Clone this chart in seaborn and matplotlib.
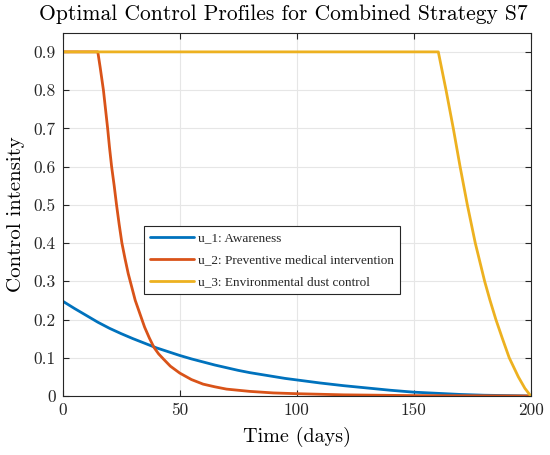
import numpy as np
import pandas as pd
import matplotlib
matplotlib.use("Agg")
import matplotlib.pyplot as plt
import seaborn as sns

# ---- data ----
t_u1 = [0, 5, 10, 15, 20, 25, 30, 35, 40, 45, 50, 55, 60, 65, 70, 75, 80, 85, 90, 95, 100,
        110, 120, 130, 140, 150, 160, 170, 180, 190, 200]
v_u1 = [0.248, 0.229, 0.211, 0.193, 0.177, 0.163, 0.150, 0.138, 0.126, 0.116, 0.106, 0.097,
        0.089, 0.081, 0.074, 0.067, 0.061, 0.056, 0.051, 0.046, 0.042,
        0.034, 0.027, 0.021, 0.015, 0.010, 0.007, 0.004, 0.002, 0.001, 0.0]

t_u2 = [0, 15, 16, 17.4, 18.3, 19.2, 20, 20.9, 22, 23, 24.1, 25.3, 26.6, 28, 29.5, 31, 33, 35,
        37, 39, 41, 43, 46, 50, 55, 60, 65, 70, 80, 90, 100, 120, 150, 200]
v_u2 = [0.9, 0.9, 0.86, 0.8, 0.75, 0.7, 0.65, 0.6, 0.55, 0.5, 0.45, 0.4, 0.36, 0.32, 0.285,
        0.25, 0.215, 0.18, 0.152, 0.127, 0.11, 0.097, 0.078, 0.060, 0.043, 0.031, 0.024,
        0.018, 0.012, 0.008, 0.006, 0.003, 0.001, 0.0]

t_u3 = [0, 160.5, 163.8, 166.9, 169.8, 172.9, 176.3, 180.3, 182.6, 185.1, 187.9, 190.8,
        194.7, 197.5, 200]
v_u3 = [0.9, 0.9, 0.8, 0.7, 0.6, 0.5, 0.4, 0.3, 0.25, 0.2, 0.15, 0.1, 0.05, 0.02, 0.0]

labels = ["u_1: Awareness", "u_2: Preventive medical intervention", "u_3: Environmental dust control"]
colors = ["#0072BD", "#D95319", "#EDB120"]

x_ticks = [0, 50, 100, 150, 200]
y_ticks = [0, 0.1, 0.2, 0.3, 0.4, 0.5, 0.6, 0.7, 0.8, 0.9]

title = "Optimal Control Profiles for Combined Strategy S7"
xlabel = "Time (days)"
ylabel = "Control intensity"

df = pd.concat([
    pd.DataFrame({"t": t_u1, "v": v_u1, "s": labels[0]}),
    pd.DataFrame({"t": t_u2, "v": v_u2, "s": labels[1]}),
    pd.DataFrame({"t": t_u3, "v": v_u3, "s": labels[2]}),
], ignore_index=True)

sns.set_theme(style="whitegrid")
plt.rcParams["font.family"] = ["cmr10", "DejaVu Serif"]
plt.rcParams["axes.unicode_minus"] = False
plt.rcParams["mathtext.fontset"] = "cm"

fig = plt.figure(figsize=(5.5, 4.55), dpi=100)
ax = fig.add_axes([0.114, 0.1297, 0.851, 0.7983])

sns.lineplot(data=df, x="t", y="v", hue="s", palette=colors, hue_order=labels,
             estimator=None, sort=False, linewidth=2.0, legend=False, ax=ax)

ax.set_xlim(0, 200)
ax.set_ylim(0, 0.95)
ax.set_xticks(x_ticks)
ax.set_yticks(y_ticks)
ax.set_xticklabels([str(v) for v in x_ticks])
ax.set_yticklabels(["0"] + [f"{v:.1f}" for v in y_ticks[1:]])
ax.tick_params(direction="in", length=4, width=0.8, colors="#262626", labelsize=12.5,
               top=True, right=True, bottom=True, left=True, pad=5)
ax.grid(True, color="#e6e6e6", linewidth=0.8)
ax.set_facecolor("white")
for sp in ax.spines.values():
    sp.set_visible(True)
    sp.set_color("#262626")
    sp.set_linewidth(0.8)

ax.set_title(title, fontsize=15.5, color="#000000", pad=9, x=0.472)
ax.set_xlabel(xlabel, fontsize=14.5, color="#000000", labelpad=6)
ax.set_ylabel(ylabel, fontsize=15, color="#000000", labelpad=6)

handles = ax.lines[:3]
leg = ax.legend(handles, labels, loc="upper left", bbox_to_anchor=(0.174, 0.468),
                prop={"family": "Liberation Serif", "size": 9.5}, frameon=True,
                fancybox=False, edgecolor="#262626", framealpha=1,
                handlelength=3.3, handletextpad=0.3, borderpad=0.45, labelspacing=0.75,
                borderaxespad=0)
leg.get_frame().set_linewidth(0.8)

fig.savefig("out.png", dpi=100)
